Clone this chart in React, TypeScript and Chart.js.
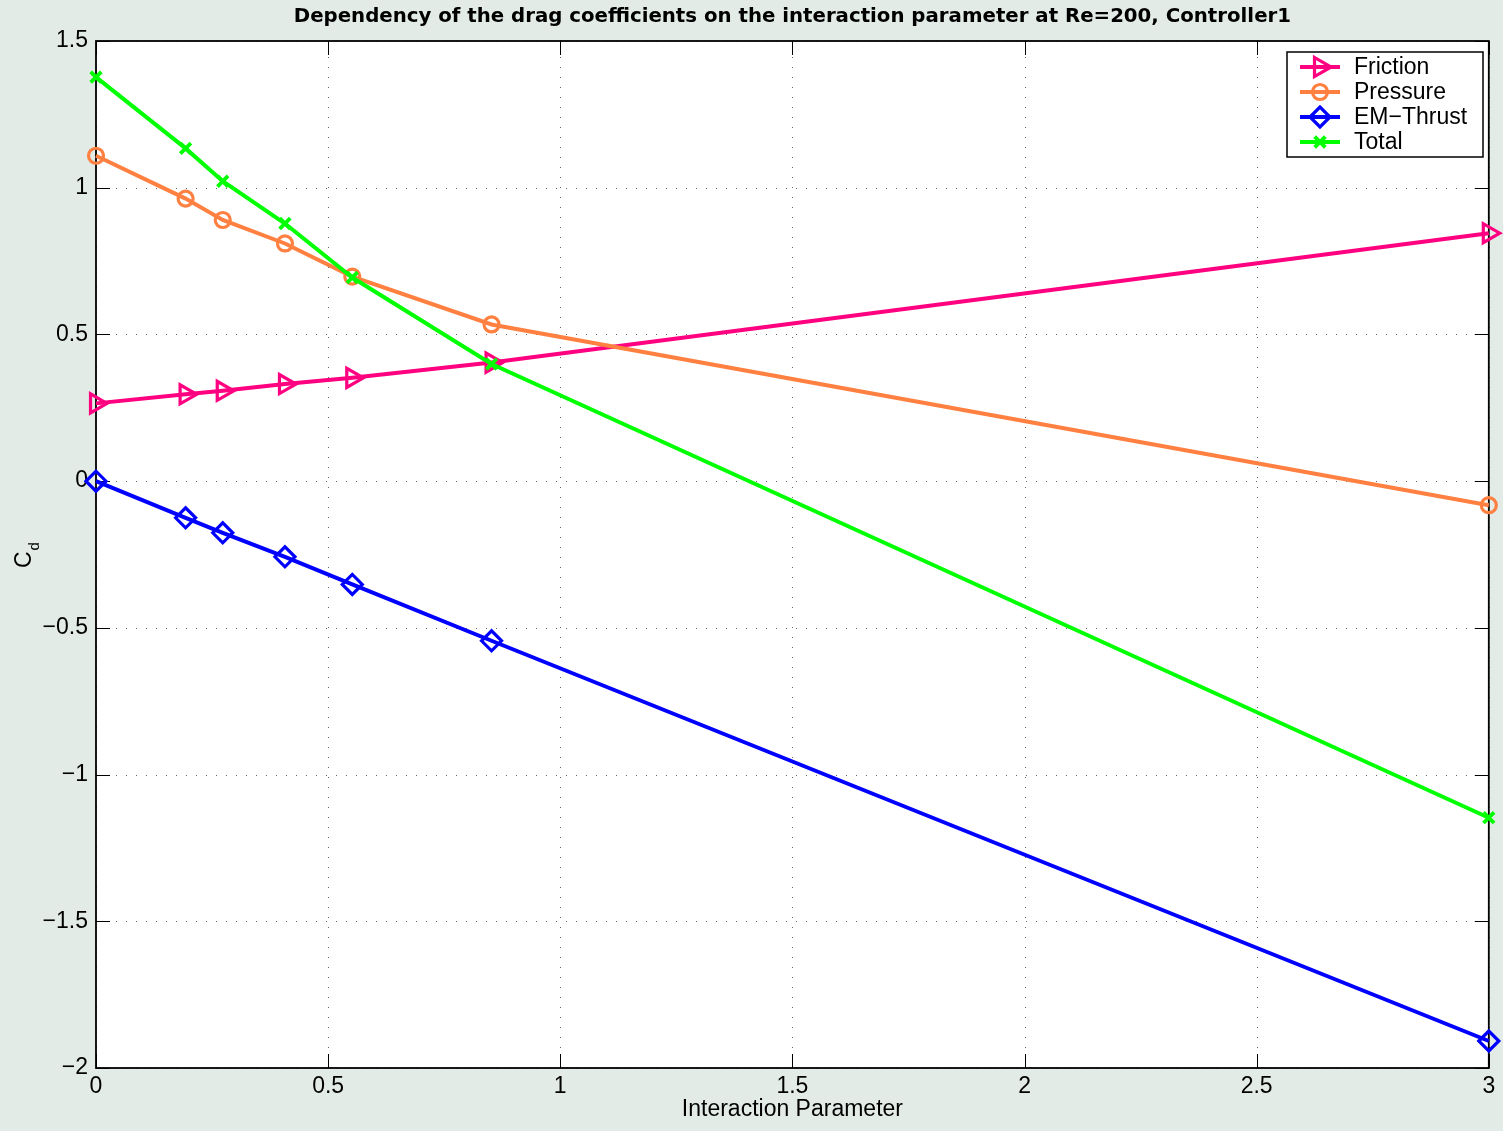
import React, { useEffect, useRef } from 'react';
import { Chart, registerables } from 'chart.js';

Chart.register(...registerables);

// ---------- data ----------
const interaction = [0, 0.193, 0.273, 0.407, 0.552, 0.852, 3];
const friction = [0.265, 0.296, 0.308, 0.331, 0.352, 0.404, 0.845];
const pressure = [1.109, 0.963, 0.89, 0.81, 0.697, 0.534, -0.082];
const emThrust = [0, -0.125, -0.176, -0.258, -0.352, -0.544, -1.908];
const total = [1.377, 1.134, 1.022, 0.878, 0.694, 0.399, -1.147];

const seriesLabels = ['Friction', 'Pressure', 'EM\u2212Thrust', 'Total'];
const xTickValues = [0, 0.5, 1, 1.5, 2, 2.5, 3];
const yTickValues = [-2, -1.5, -1, -0.5, 0, 0.5, 1, 1.5];

const titleText = 'Dependency of the drag coefficients on the interaction parameter at Re=200, Controller1';
const xTitle = 'Interaction Parameter';

// ---------- styles ----------
const FONT = '"Liberation Sans", Arial, Helvetica, sans-serif';
const TITLE_FONT = '"DejaVu Sans", "Liberation Sans", sans-serif';
const FS = 23;
const FIG_BG = 'rgb(227,235,231)';
const colors = ['rgb(255,0,128)', 'rgb(255,128,64)', 'rgb(0,0,255)', 'rgb(0,255,0)'];
const markers = [
  { style: 'triangle', rotation: 90, radius: 11, width: 3.2 },
  { style: 'circle', rotation: 0, radius: 7.5, width: 3.2 },
  { style: 'rectRot', rotation: 0, radius: 10, width: 3.2 },
  { style: 'crossRot', rotation: 0, radius: 7.5, width: 3.8 },
];
const LINE_W = 4;

function fmt(v: number) {
  const s = String(Math.round(v * 100) / 100);
  return s.replace('-', '\u2212');
}

function drawMarker(ctx: CanvasRenderingContext2D, style: string, rotDeg: number, x: number, y: number, r: number, color: string, w: number) {
  ctx.save();
  ctx.strokeStyle = color;
  ctx.lineWidth = w;
  ctx.beginPath();
  if (style === 'triangle') {
    let rad = (rotDeg * Math.PI) / 180;
    ctx.moveTo(x + Math.sin(rad) * r, y - Math.cos(rad) * r);
    rad += (2 * Math.PI) / 3;
    ctx.lineTo(x + Math.sin(rad) * r, y - Math.cos(rad) * r);
    rad += (2 * Math.PI) / 3;
    ctx.lineTo(x + Math.sin(rad) * r, y - Math.cos(rad) * r);
    ctx.closePath();
  } else if (style === 'circle') {
    ctx.arc(x, y, r, 0, Math.PI * 2);
  } else if (style === 'rectRot') {
    ctx.moveTo(x - r, y);
    ctx.lineTo(x, y - r);
    ctx.lineTo(x + r, y);
    ctx.lineTo(x, y + r);
    ctx.closePath();
  } else if (style === 'crossRot') {
    const o = Math.cos(Math.PI / 4) * r;
    ctx.moveTo(x - o, y - o);
    ctx.lineTo(x + o, y + o);
    ctx.moveTo(x + o, y - o);
    ctx.lineTo(x - o, y + o);
  }
  ctx.stroke();
  ctx.restore();
}

const backgroundPlugin = {
  id: 'figBackground',
  beforeDraw(chart: any) {
    const { ctx, chartArea } = chart;
    ctx.save();
    ctx.fillStyle = FIG_BG;
    ctx.fillRect(0, 0, chart.width, chart.height);
    ctx.fillStyle = '#ffffff';
    ctx.fillRect(chartArea.left, chartArea.top, chartArea.right - chartArea.left, chartArea.bottom - chartArea.top);
    ctx.restore();
  },
};

const axesPlugin = {
  id: 'matlabAxes',
  beforeDatasetsDraw(chart: any) {
    const { ctx, chartArea } = chart;
    const xs = chart.scales.x;
    const ys = chart.scales.y;
    const L = chartArea.left, R = chartArea.right, T = chartArea.top, B = chartArea.bottom;
    const TL = 14;
    ctx.save();
    // dotted grid
    ctx.strokeStyle = '#666';
    ctx.lineWidth = 1;
    ctx.setLineDash([1, 9]);
    xs.ticks.forEach((t: any) => {
      const px = Math.round(xs.getPixelForValue(t.value)) + 0.5;
      ctx.beginPath();
      ctx.moveTo(px, B);
      ctx.lineTo(px, T);
      ctx.stroke();
    });
    ys.ticks.forEach((t: any) => {
      const py = Math.round(ys.getPixelForValue(t.value)) + 0.5;
      ctx.beginPath();
      ctx.moveTo(L, py);
      ctx.lineTo(R, py);
      ctx.stroke();
    });
    ctx.setLineDash([]);
    // inward ticks
    ctx.strokeStyle = '#000';
    ctx.lineWidth = 1;
    xs.ticks.forEach((t: any) => {
      const px = Math.round(xs.getPixelForValue(t.value)) + 0.5;
      ctx.beginPath();
      ctx.moveTo(px, B);
      ctx.lineTo(px, B - TL);
      ctx.moveTo(px, T);
      ctx.lineTo(px, T + TL);
      ctx.stroke();
    });
    ys.ticks.forEach((t: any) => {
      const py = Math.round(ys.getPixelForValue(t.value)) + 0.5;
      ctx.beginPath();
      ctx.moveTo(L, py);
      ctx.lineTo(L + TL, py);
      ctx.moveTo(R, py);
      ctx.lineTo(R - TL, py);
      ctx.stroke();
    });
    // frame
    ctx.lineWidth = 1.8;
    ctx.strokeRect(L, T, R - L, B - T);
    ctx.restore();
  },
};

const overlayPlugin = {
  id: 'overlay',
  afterDraw(chart: any) {
    const { ctx } = chart;
    // y-axis label C_d
    ctx.save();
    ctx.translate(31, 568);
    ctx.rotate(-Math.PI / 2);
    ctx.fillStyle = '#000';
    ctx.textBaseline = 'alphabetic';
    ctx.textAlign = 'left';
    ctx.font = `${FS}px ${FONT}`;
    ctx.fillText('C', 0, 0);
    const cw = ctx.measureText('C').width;
    ctx.font = `15px ${FONT}`;
    ctx.fillText('d', cw + 1, 8);
    ctx.restore();

    // legend
    const bx = 1287, by = 52, bw = 196, bh = 105;
    ctx.save();
    ctx.fillStyle = '#fff';
    ctx.fillRect(bx, by, bw, bh);
    ctx.strokeStyle = '#000';
    ctx.lineWidth = 1.5;
    ctx.strokeRect(bx, by, bw, bh);
    chart.data.datasets.forEach((ds: any, i: number) => {
      const y = 67 + i * 25;
      ctx.strokeStyle = ds.borderColor;
      ctx.lineWidth = LINE_W;
      ctx.beginPath();
      ctx.moveTo(1300, y);
      ctx.lineTo(1340, y);
      ctx.stroke();
      const m = markers[i];
      drawMarker(ctx, m.style, m.rotation, 1320, y, m.radius, ds.borderColor, m.width);
      ctx.fillStyle = '#000';
      ctx.font = `${FS}px ${FONT}`;
      ctx.textBaseline = 'middle';
      ctx.textAlign = 'left';
      ctx.fillText(ds.label, 1354, y + 1);
    });
    ctx.restore();
  },
};

const seriesValues = [friction, pressure, emThrust, total];

export default function App() {
  const ref = useRef<HTMLCanvasElement | null>(null);

  useEffect(() => {
    if (!ref.current) return;
    Chart.defaults.font.family = FONT;
    Chart.defaults.color = '#000';
    const datasets = seriesValues.map((vals, i) => ({
      label: seriesLabels[i],
      data: interaction.map((x, j) => ({ x, y: vals[j] })),
      borderColor: colors[i],
      backgroundColor: colors[i],
      borderWidth: LINE_W,
      pointStyle: markers[i].style as any,
      rotation: markers[i].rotation,
      pointRadius: markers[i].radius,
      pointBorderWidth: markers[i].width,
      pointBorderColor: colors[i],
      pointBackgroundColor: 'rgba(0,0,0,0)',
      pointHoverRadius: markers[i].radius,
      showLine: true,
      tension: 0,
      fill: false,
      clip: false as any,
      order: 4 - i,
    }));
    const chart = new Chart(ref.current, {
      type: 'line',
      data: { datasets },
      options: {
        animation: false,
        responsive: false,
        maintainAspectRatio: false,
        devicePixelRatio: 1,
        layout: { padding: { left: 0, right: 8, top: 0, bottom: 0 } },
        events: [],
        plugins: {
          legend: { display: false },
          tooltip: { enabled: false },
          title: {
            display: true,
            fullSize: false,
            text: titleText,
            color: '#000',
            font: { size: 19.75, weight: 'bold', family: TITLE_FONT, lineHeight: 1.2 },
            padding: { top: 4.7, bottom: 12.6 },
          },
        },
        scales: {
          x: {
            type: 'linear',
            min: 0,
            max: 3,
            afterBuildTicks: (s: any) => { s.ticks = xTickValues.map((v) => ({ value: v })); },
            afterFit: (s: any) => { s.height = 63; },
            grid: { display: false, drawTicks: false },
            border: { display: false },
            ticks: {
              padding: 5.2,
              autoSkip: false,
              maxRotation: 0,
              font: { size: FS, family: FONT, lineHeight: 1.2 },
              color: '#000',
              callback: (v: any) => fmt(Number(v)),
            },
            title: {
              display: true,
              text: xTitle,
              color: '#000',
              font: { size: FS, family: FONT, lineHeight: 1.2 },
              padding: { top: 0, bottom: 7.2 },
            },
          },
          y: {
            type: 'linear',
            min: -2,
            max: 1.5,
            afterBuildTicks: (s: any) => { s.ticks = yTickValues.map((v) => ({ value: v })); },
            afterFit: (s: any) => { s.width = 96; },
            grid: { display: false, drawTicks: false },
            border: { display: false },
            ticks: {
              padding: 8,
              autoSkip: false,
              font: { size: FS, family: FONT, lineHeight: 1.2 },
              color: '#000',
              callback: (v: any) => fmt(Number(v)),
            },
          },
        },
      } as any,
      plugins: [backgroundPlugin, axesPlugin, overlayPlugin],
    });
    return () => chart.destroy();
  }, []);

  return (
    <div style={{ position: 'absolute', left: 0, top: 0, width: 1503, height: 1131, background: FIG_BG }}>
      <canvas ref={ref} width={1503} height={1131} style={{ display: 'block', width: 1503, height: 1131 }} />
    </div>
  );
}
